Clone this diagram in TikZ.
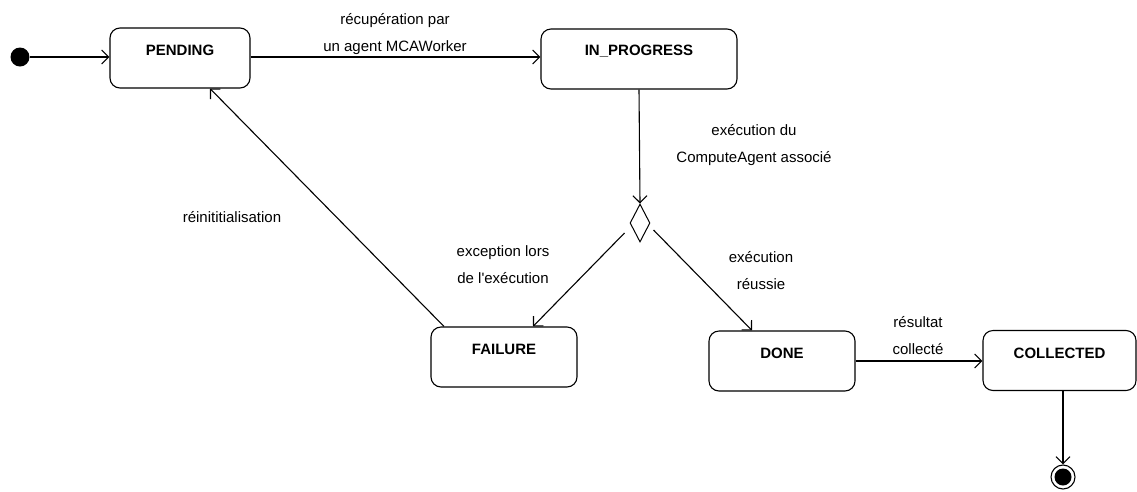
\documentclass[tikz,border=0pt]{standalone}
\usepackage{fontspec}
\setmainfont{Liberation Sans}
\usetikzlibrary{arrows.meta,shapes.geometric,positioning}
\begin{document}
\begin{tikzpicture}[x=1pt,y=-1pt,
  line width=1.1pt,
  statebox/.style={draw,rounded corners=10pt,minimum height=60pt,inner sep=0pt},
  statetxt/.style={font=\fontsize{15}{18}\selectfont\bfseries,inner sep=0pt,anchor=center},
  lbl/.style={font=\fontsize{15}{27}\selectfont,align=center,inner sep=0pt},
  arr/.style={-{Straight Barb[length=7pt,width=14pt,line width=1.1pt]}}]
\useasboundingbox (0,0) rectangle (1137,491);
% states
\node[statebox,minimum width=140pt] (pend) at (180,58) {};
\node[statebox,minimum width=196pt] (prog) at (639,59) {};
\node[statebox,minimum width=146pt] (fail) at (504,357) {};
\node[statebox,minimum width=146pt] (done) at (782,361) {};
\node[statebox,minimum width=153pt] (coll) at (1059.5,360.5) {};
\node[statetxt] (pendt) at ([yshift=-23pt]pend.north) {PENDING};
\node[statetxt] (progt) at ([yshift=-23pt]prog.north) {IN\_PROGRESS};
\node[statetxt] (failt) at ([yshift=-23pt]fail.north) {FAILURE};
\node[statetxt] (donet) at ([yshift=-23pt]done.north) {DONE};
\node[statetxt] (collt) at ([yshift=-23pt]coll.north) {COLLECTED};
% pseudo states
\node[circle,fill=black,minimum size=19pt,inner sep=0pt] (start) at (20,57) {};
\node[diamond,draw,line width=1pt,minimum width=20pt,minimum height=38pt,inner sep=0pt] (dia) at (640,223) {};
\node[circle,draw,line width=1.1pt,minimum size=24pt,inner sep=0pt] (fin) at (1063,477) {};
\node[circle,fill=black,minimum size=17pt,inner sep=0pt] (finin) at (fin) {};
% transitions
\draw[arr] (start) -- (pend.west |- start);
\draw[arr] (pend.east |- start) -- (prog.west |- start);
\draw[arr] (prog.south) -- (dia.north);
\draw[arr] ([shift={(-5pt,-10pt)}]dia.west) -- ([xshift=29pt]fail.north);
\draw[arr] ([shift={(3pt,-7pt)}]dia.east) -- ([xshift=-30pt]done.north);
\draw[arr] ([xshift=-60pt]fail.north) -- ([xshift=30pt]pend.south);
\draw[arr] (done.east) -- (coll.west |- done.east);
\draw[arr] (coll.south -| fin) -- (fin.north);
% labels
\node[lbl] (l1) at (395,34) {récupération par\\un agent MCAWorker};
\node[lbl] (l2) at (754,145) {exécution du\\ComputeAgent associé};
\node[lbl] (l3) at (232,217) {réinititialisation};
\node[lbl] (l4) at (503,265) {exception lors\\de l\textquotesingle exécution};
\node[lbl] (l5) at (761,271) {exécution\\réussie};
\node[lbl] (l6) at (918,336) {résultat\\collecté};
\end{tikzpicture}
\end{document}
